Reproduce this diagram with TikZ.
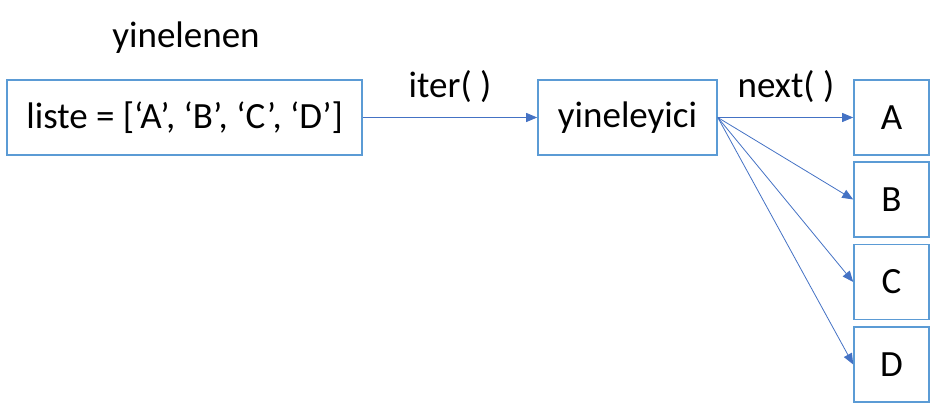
\documentclass[tikz,border=0pt]{standalone}
\usepackage{fontspec}
\setmainfont{Carlito}
\usetikzlibrary{arrows.meta}
\definecolor{boxblue}{HTML}{5B9BD5}
\definecolor{arrowblue}{HTML}{4472C4}
\begin{document}
\begin{tikzpicture}[x=1pt,y=1pt,
  box/.style={draw=boxblue, line width=1.6pt, minimum height=75pt, inner sep=0pt,
    font=\fontsize{37}{44}\selectfont},
  lbl/.style={anchor=base, inner sep=0pt, font=\fontsize{37}{44}\selectfont},
  conn/.style={draw=arrowblue, line width=0.8pt, -{Triangle[length=11pt,width=9pt]}}]
\useasboundingbox (0,0) rectangle (930,411);
\node[box, minimum width=355pt] (liste) at (184.5,293.5) {liste = [‘A’, ‘B’, ‘C’, ‘D’]};
\node[box, minimum width=179pt] (iter) at (627.5,293.5) {yineleyici};
\node[box, minimum width=75pt] (A) at (891.5,293.5) {A};
\node[box, minimum width=75pt] (B) at (891.5,211.5) {B};
\node[box, minimum width=75pt] (C) at (891.5,129) {C};
\node[box, minimum width=75pt] (D) at (891.5,46.5) {D};
\node[lbl] (yin) at (186,363) {yinelenen};
\node[lbl] (iterlbl) at (450,313) {iter( )};
\node[lbl] (nextlbl) at (786,313) {next( )};
\draw[conn] (liste.east) -- (iter.west);
\draw[conn] (iter.east) -- (A.west);
\draw[conn] (iter.east) -- (B.west);
\draw[conn] (iter.east) -- (C.west);
\draw[conn] (iter.east) -- (D.west);
\end{tikzpicture}
\end{document}
